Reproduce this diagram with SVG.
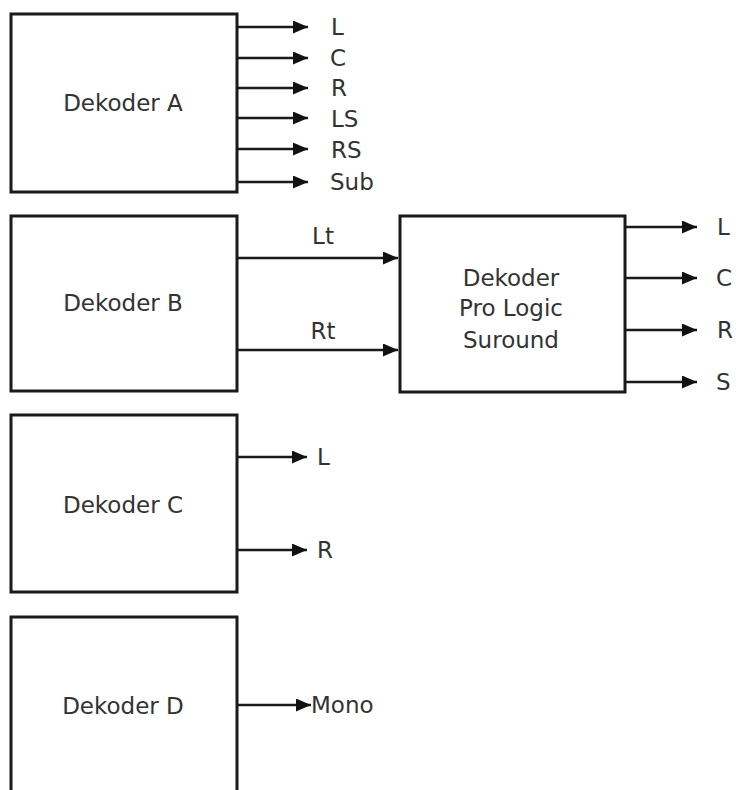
<svg xmlns="http://www.w3.org/2000/svg" width="736" height="790" viewBox="0 0 736 790">
<defs>
<marker id="ah" markerWidth="15" markerHeight="13" refX="15" refY="6.5" orient="auto" markerUnits="userSpaceOnUse">
<path d="M0,0 L15,6.5 L0,13 Z" fill="#111"/>
</marker>
<style>
.box{fill:#fff;stroke:#1a1a1a;stroke-width:3}
.c{stroke:#1a1a1a;stroke-width:2.5;fill:none;marker-end:url(#ah)}
text{font-family:"DejaVu Sans","Liberation Sans",sans-serif;font-size:23px;fill:#333}
.m{text-anchor:middle}
</style>
</defs>
<rect width="736" height="790" fill="#fff"/>
<g id="dekoderA">
<rect class="box" x="11" y="14" width="226" height="178"/>
<text class="m" x="123" y="111">Dekoder A</text>
</g>
<g id="dekoderB">
<rect class="box" x="11" y="216" width="226" height="175"/>
<text class="m" x="123" y="311">Dekoder B</text>
</g>
<g id="proLogic">
<rect class="box" x="400" y="216" width="225" height="176"/>
<text class="m" x="511" y="286">Dekoder</text>
<text class="m" x="511" y="316">Pro Logic</text>
<text class="m" x="511" y="348">Suround</text>
</g>
<g id="dekoderC">
<rect class="box" x="11" y="415" width="226" height="177"/>
<text class="m" x="123" y="513">Dekoder C</text>
</g>
<g id="dekoderD">
<rect class="box" x="11" y="617" width="226" height="190"/>
<text class="m" x="123" y="714">Dekoder D</text>
</g>
<g id="connectors">
<line class="c" x1="237" y1="27" x2="308" y2="27"/>
<line class="c" x1="237" y1="58" x2="308" y2="58"/>
<line class="c" x1="237" y1="88" x2="308" y2="88"/>
<line class="c" x1="237" y1="118" x2="308" y2="118"/>
<line class="c" x1="237" y1="149" x2="308" y2="149"/>
<line class="c" x1="237" y1="182" x2="308" y2="182"/>
<line class="c" x1="237" y1="258" x2="398" y2="258"/>
<line class="c" x1="237" y1="350" x2="398" y2="350"/>
<line class="c" x1="625" y1="227" x2="697" y2="227"/>
<line class="c" x1="625" y1="278" x2="697" y2="278"/>
<line class="c" x1="625" y1="330" x2="697" y2="330"/>
<line class="c" x1="625" y1="382" x2="697" y2="382"/>
<line class="c" x1="237" y1="457" x2="307" y2="457"/>
<line class="c" x1="237" y1="550" x2="307" y2="550"/>
<line class="c" x1="237" y1="705" x2="311" y2="705"/>
</g>
<g id="labels">
<text x="331" y="35">L</text>
<text x="330" y="66">C</text>
<text x="331" y="96">R</text>
<text x="331" y="127">LS</text>
<text x="331" y="158">RS</text>
<text x="330" y="190">Sub</text>
<text class="m" x="323" y="244">Lt</text>
<text class="m" x="323" y="339">Rt</text>
<text x="717" y="235">L</text>
<text x="716" y="286">C</text>
<text x="717" y="338">R</text>
<text x="716" y="390">S</text>
<text x="317" y="465">L</text>
<text x="317" y="558">R</text>
<text x="311" y="713">Mono</text>
</g>
</svg>
